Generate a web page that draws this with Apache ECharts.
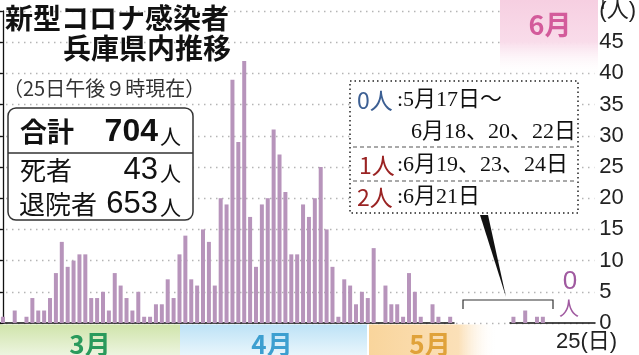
<!DOCTYPE html>
<html><head><meta charset="utf-8">
<script src="https://cdn.jsdelivr.net/npm/echarts@6/dist/echarts.min.js"></script>
<style>html,body{margin:0;padding:0;background:#fff}#c{width:639px;height:355px}</style>
</head><body><div id="c"></div>
<script>
// Daily new cases (Hyogo), 2020
const marchCases = [1,0,2,0,1,4,2,2,4,8,13,9,10,11,11,4,4,5,2,8,6,4,2,5,1,1,3,3,7,4,11];
const aprilCases = [14,7,6,15,13,6,20,19,39,29,42,17,9,19,20,31,27,21,11,11,19,17,20,25,15,9,1,7,6,3];
const mayCases = [5,4,12,0,6,3,3,1,8,5,1,0,3,1,0,1,0,0,0,0,0,0,0,0,0,0,0,0,0,0,0];
const juneCases = [0,0,0,0,0,0,0,0,0,0,0,0,0,0,0,0,0,0,1,0,2,0,1,1,0];
const monthStarts = [0, 31, 61, 92]; // day index of 1st of Mar, Apr, May, Jun
const yTicks = [0,5,10,15,20,25,30,35,40,45,50];

const months = [marchCases, aprilCases, mayCases, juneCases];
const barData = [];
months.forEach((arr, m) => arr.forEach((v, i) => barData.push([monthStarts[m] + i, v])));

const CJK = "'Noto Sans CJK JP'";
const LAT = "'Liberation Sans','Noto Sans CJK JP'";
const SER = "'Liberation Serif','Noto Sans CJK JP'";

function txt(text, x, y, size, opts) {
  opts = opts || {};
  return {
    type: 'text', z: 20, x: x, y: y,
    style: {
      text: text, fontSize: size, fontFamily: opts.family || CJK,
      fontWeight: opts.weight || 'normal', fill: opts.color || '#222',
      textAlign: opts.align || 'left', textVerticalAlign: 'middle'
    }
  };
}
function vgrad(c0, c1) {
  return {type:'linear', x:0, y:0, x2:0, y2:1, colorStops:[{offset:0,color:c0},{offset:1,color:c1}]};
}

const chart = echarts.init(document.getElementById('c'), null, {renderer:'canvas'});
chart.setOption({
  animation: false,
  grid: {left: 0, right: 36, top: 8, bottom: 32, containLabel: false},
  xAxis: {
    type: 'value', min: -0.5, max: 123.75,
    // zero-case period May 17 - Jun 18 is compressed, as in the original
    breaks: [{start: 76.6, end: 109.4, gap: 9.55}],
    breakArea: {show: false},
    axisLine: {show: true, onZero: false, lineStyle: {color: '#111', width: 1.5}},
    axisTick: {show: false}, axisLabel: {show: false}, splitLine: {show: false}
  },
  yAxis: {
    type: 'value', position: 'right', min: yTicks[0], max: yTicks[yTicks.length - 1], interval: 5,
    axisLine: {show: true, lineStyle: {color: '#111', width: 1.3}},
    axisTick: {show: true, inside: true, length: 6, lineStyle: {color: '#111', width: 1.3}},
    axisLabel: {
      margin: 5, fontSize: 22, color: '#222', fontFamily: LAT,
      formatter: v => (v === 50 ? '(人)' : String(v))
    },
    splitLine: {show: true, lineStyle: {color: '#b5b5b5', width: 1.3, type: [1.5, 4.5]}}
  },
  series: [{
    type: 'bar', data: barData, barWidth: 4, silent: true,
    itemStyle: {color: '#b794bb'}
  }],
  graphic: [
    // month bands
    {type:'rect', z:5, shape:{x:0,y:324.5,width:180,height:31}, style:{fill: vgrad('#d0e4ab','#edf5e0')}},
    {type:'rect', z:5, shape:{x:180,y:324.5,width:187,height:31}, style:{fill: vgrad('#bde2f6','#e9f6fc')}},
    {type:'rect', z:5, shape:{x:369,y:324.5,width:128,height:31}, style:{fill:{type:'linear',x:0,y:0,x2:1,y2:0,colorStops:[{offset:0,color:'#f9d59c'},{offset:0.7,color:'#fbe0b8'},{offset:1,color:'rgba(255,255,255,0)'}]}}},
    txt('3月', 90, 344, 26, {weight:'bold', color:'#2a9a5c', align:'center'}),
    txt('4月', 272, 344, 26, {weight:'bold', color:'#3d9fd0', align:'center'}),
    txt('5月', 430, 344, 26, {weight:'bold', color:'#e0a23a', align:'center'}),
    txt('25(日)', 556, 342, 22, {family: LAT, color:'#222'}),
    // June band
    {type:'rect', z:6, shape:{x:500,y:0,width:98,height:76}, style:{fill:{type:'linear',x:0,y:0,x2:0,y2:1,colorStops:[{offset:0,color:'#f6cfe1'},{offset:0.55,color:'#f9dcea'},{offset:1,color:'rgba(255,255,255,0)'}]}}},
    txt('6月', 550, 25, 27, {weight:'bold', color:'#d35b9b', align:'center'}),
    {type:'line', z:20, shape:{x1:603,y1:0,x2:603,y2:9}, style:{stroke:'#111', lineWidth:1.3}},
    // title
    txt('新型コロナ感染者', 5, 18, 28, {weight:'bold', color:'#111'}),
    txt('兵庫県内推移', 231, 48, 28, {weight:'bold', color:'#111', align:'right'}),
    txt('（25日午後９時現在）', 3, 88, 20, {color:'#333'}),
    // summary box
    {type:'rect', z:15, shape:{x:8,y:108,width:185,height:112,r:8}, style:{fill:'#fff', stroke:'#333', lineWidth:1.5}},
    {type:'line', z:16, shape:{x1:8,y1:153,x2:193,y2:153}, style:{stroke:'#333', lineWidth:1.5}},
    txt('合計', 20, 132, 27, {weight:'bold', color:'#111'}),
    txt('704', 158, 132, 32, {family: LAT, weight:'bold', color:'#111', align:'right'}),
    txt('人', 160, 136, 21, {color:'#111'}),
    txt('死者', 20, 170, 26, {color:'#111'}),
    txt('43', 158, 170, 31, {family: LAT, color:'#111', align:'right'}),
    txt('人', 160, 173, 21, {color:'#111'}),
    txt('退院者', 19, 204, 26, {color:'#111'}),
    txt('653', 158, 204, 31, {family: LAT, color:'#111', align:'right'}),
    txt('人', 160, 207, 21, {color:'#111'}),
    // annotation box
    {type:'rect', z:15, shape:{x:350,y:81,width:228,height:132}, style:{fill:'#fff', stroke:'#222', lineWidth:1.5, lineDash:[1.5,3]}},
    {type:'line', z:16, shape:{x1:353,y1:147,x2:575,y2:147}, style:{stroke:'#555', lineWidth:1.2, lineDash:[4,3]}},
    {type:'line', z:16, shape:{x1:353,y1:181,x2:575,y2:181}, style:{stroke:'#555', lineWidth:1.2, lineDash:[4,3]}},
    txt('0人', 357, 100, 23, {color:'#3c5f93'}),
    txt(':5月17日～', 397, 100, 22, {family: SER, color:'#111'}),
    txt('6月18、20、22日', 411, 132, 22, {family: SER, color:'#111'}),
    txt('1人', 359, 165, 23, {color:'#9a2323'}),
    txt(':6月19、23、24日', 397, 165, 22, {family: SER, color:'#111'}),
    txt('2人', 357, 197, 23, {color:'#9a2323'}),
    txt(':6月21日', 397, 197, 22, {family: SER, color:'#111'}),
    // pointer and bracket
    {type:'polygon', z:16, shape:{points:[[480,215],[488,215],[506,297]]}, style:{fill:'#111'}},
    {type:'polyline', z:16, shape:{points:[[463,309],[463,300],[553,300],[553,309]]}, style:{stroke:'#333', lineWidth:1.2, fill:null}},
    txt('0', 570, 282, 26, {family: LAT, color:'#a05aa0', align:'center'}),
    txt('人', 569, 308, 20, {color:'#a05aa0', align:'center'})
  ]
});
</script></body></html>
